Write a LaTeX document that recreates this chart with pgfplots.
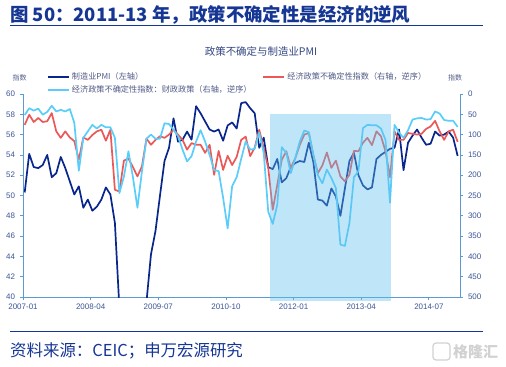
\documentclass[border=0pt]{standalone}
\usepackage{fontspec}
\setmainfont{Liberation Sans}
\newfontfamily\cjk{Noto Sans CJK SC}
\usepackage{pgfplots}
\pgfplotsset{compat=1.18}
\usepackage{pgfplotstable}
\definecolor{titleblue}{RGB}{22,54,148}
\definecolor{axiscol}{RGB}{91,155,213}
\definecolor{tickc}{RGB}{60,85,150}
\definecolor{subc}{RGB}{50,70,130}
\definecolor{legc}{RGB}{80,90,135}
\definecolor{pmic}{RGB}{8,38,140}
\definecolor{epuc}{RGB}{235,88,88}
\definecolor{fisc}{RGB}{90,205,250}
\definecolor{shadec}{RGB}{95,192,237}
\pgfplotstableread{
k pmi epu fis
0 50.3 76 52
1 54.1 51 35
2 52.8 69 41
3 52.7 59 36
4 53.0 69 51
5 54.0 67 44
6 51.8 47 29
7 52.2 92 43
8 53.8 108 39
9 52.7 92 43
10 51.4 107 37
11 50.1 116 71
12 50.9 162 189
13 48.8 107 108
14 49.6 113 92
15 48.5 101 76
16 48.9 92 85
17 49.6 88 76
18 50.8 115 82
19 50.1 88 82
20 47.3 236 108
21 38.9 240 244
22 36.2 164 203
23 33.0 159 141
24 35.6 180 205
25 35.8 203 280
26 36.3 178 190
27 39.5 110 110
28 44.2 125 100
29 46.5 113 110
30 50.0 104 110
31 53.4 108 72
32 54.7 100 74
33 57.6 88 88
34 55.3 100 104
35 55.5 113 137
36 56.3 137 166
37 55.5 121 153
38 58.8 125 117
39 58.1 125 89
40 57.3 145 117
41 56.5 125 150
42 56.3 199 187
43 56.5 140 190
44 55.4 187 256
45 56.9 152 331
46 57.2 175 227
47 56.6 155 205
48 59.1 113 160
49 59.2 105 117
50 58.6 153 137
51 58.1 132 135
52 54.7 88 95
53 55.7 133 145
54 52.8 182 290
55 52.6 285 320
56 53.6 224 273
57 51.3 162 131
58 51.7 141 145
59 52.8 182 195
60 53.2 158 158
61 53.4 125 117
62 53.3 100 90
63 55.2 96 94
64 53.3 150 150
65 49.6 195 200
66 49.5 176 220
67 49.0 144 186
68 50.7 182 207
69 49.9 164 232
70 48.0 203 371
71 50.7 215 374
72 53.4 199 318
73 54.2 140 205
74 52.0 141 190
75 51.0 120 84
76 50.6 108 76
77 50.8 126 77
78 53.6 92 77
79 54.0 104 85
80 54.3 141 113
81 54.6 205 268
82 54.7 92 76
83 56.5 113 95
84 52.5 113 108
85 55.2 96 89
86 55.9 98 63
87 56.5 100 60
88 55.7 98 59
89 55.0 86 63
90 55.1 80 62
91 56.3 66 43
92 55.9 92 48
93 56.0 113 64
94 56.3 92 66
95 55.7 88 66
96 53.9 118 81
}\data
\begin{document}
\begin{tikzpicture}
\useasboundingbox (0bp,0bp) rectangle (506bp,-367bp);
\node[anchor=west, inner sep=0, text=titleblue, font=\cjk\bfseries\fontsize{18.5}{20}\selectfont] at (10bp,-15bp) {图 50：2011-13 年，政策不确定性是经济的逆风};
\draw[titleblue, line width=1.2bp] (10bp,-25.5bp) -- (483bp,-25.5bp);
\node[inner sep=0, font=\cjk\fontsize{10.5}{12}\selectfont, text=subc] at (261bp,-51.5bp) {政策不确定与制造业PMI};
\node[inner sep=0, font=\cjk\fontsize{7}{8}\selectfont, text=legc] at (19.7bp,-78bp) {指数};
\node[inner sep=0, font=\cjk\fontsize{7}{8}\selectfont, text=legc] at (455bp,-78bp) {指数};
\pgfplotsset{base/.style={scale only axis, width=437bp, height=203bp,
  xmin=-0.377, xmax=96.52, tick align=outside, major tick length=3bp,
  tick style={axiscol, line width=0.8bp}, axis line style={axiscol, line width=0.9bp},
  ticklabel style={font=\fontsize{8}{10}\selectfont, text=tickc},
  /pgf/number format/assume math mode=true}}
\begin{axis}[base, name=main, at={(23bp,-297bp)}, anchor=south west,
  ymin=40, ymax=60, ytick={40,42,...,60},
  axis x line*=bottom, axis y line*=left,
  xtick={-0.377,14.623,29.623,44.623,59.623,74.623,89.623},
  xticklabels={2007-01,2008-04,2009-07,2010-10,2012-01,2013-04,2014-07},
  yticklabel style={xshift=-1.5bp}]
\addplot[pmic, line width=1.7bp, line join=round] table[x=k,y=pmi]{\data};
\end{axis}
\begin{axis}[base, at={(main.south west)}, anchor=south west, ymin=0, ymax=500, y dir=reverse, ytick={0,50,...,500},
  axis x line=none, axis y line*=right, yticklabel style={xshift=1.5bp},
  legend columns=2,
  legend style={at={(0.055,1.117)}, anchor=north west, draw=none, fill=none, inner sep=0pt,
    font=\cjk\fontsize{8.2}{10}\selectfont, text=legc, row sep=0.8bp,
    /tikz/every even column/.append style={column sep=9bp}},
  legend cell align=left,
  legend image code/.code={\draw[#1] (0bp,0bp) -- (21bp,0bp);}]
\addlegendimage{pmic, line width=1.7bp}
\addlegendentry{制造业PMI（左轴）}
\addplot[epuc, line width=1.7bp, line join=round] table[x=k,y=epu]{\data};
\addlegendentry{经济政策不确定性指数（右轴，逆序）}
\addplot[fisc, line width=1.7bp, line join=round] table[x=k,y=fis]{\data};
\addlegendentry{经济政策不确定性指数：财政政策（右轴，逆序）}
\end{axis}
\begin{axis}[base, at={(main.south west)}, anchor=south west, ymin=0, ymax=500, y dir=reverse, axis lines=none, clip=false]
\addplot[draw=none, fill=shadec, fill opacity=0.4] coordinates {(54.4,50) (81.15,50) (81.15,511) (54.4,511)} -- cycle;
\end{axis}
\draw[titleblue, line width=1bp] (10bp,-331bp) -- (483bp,-331bp);
\node[anchor=west, inner sep=0, font=\cjk\fontsize{16.5}{18}\selectfont, text=titleblue] at (10bp,-351bp) {资料来源：CEIC；申万宏源研究};
\draw[black!18, line width=1.2bp, rounded corners=3bp] (433bp,-343bp) rectangle (450bp,-360bp);
\node[anchor=west, inner sep=0, font=\cjk\bfseries\fontsize{15}{16}\selectfont, text=black!18] at (453bp,-351.5bp) {格隆汇};
\end{tikzpicture}
\end{document}
